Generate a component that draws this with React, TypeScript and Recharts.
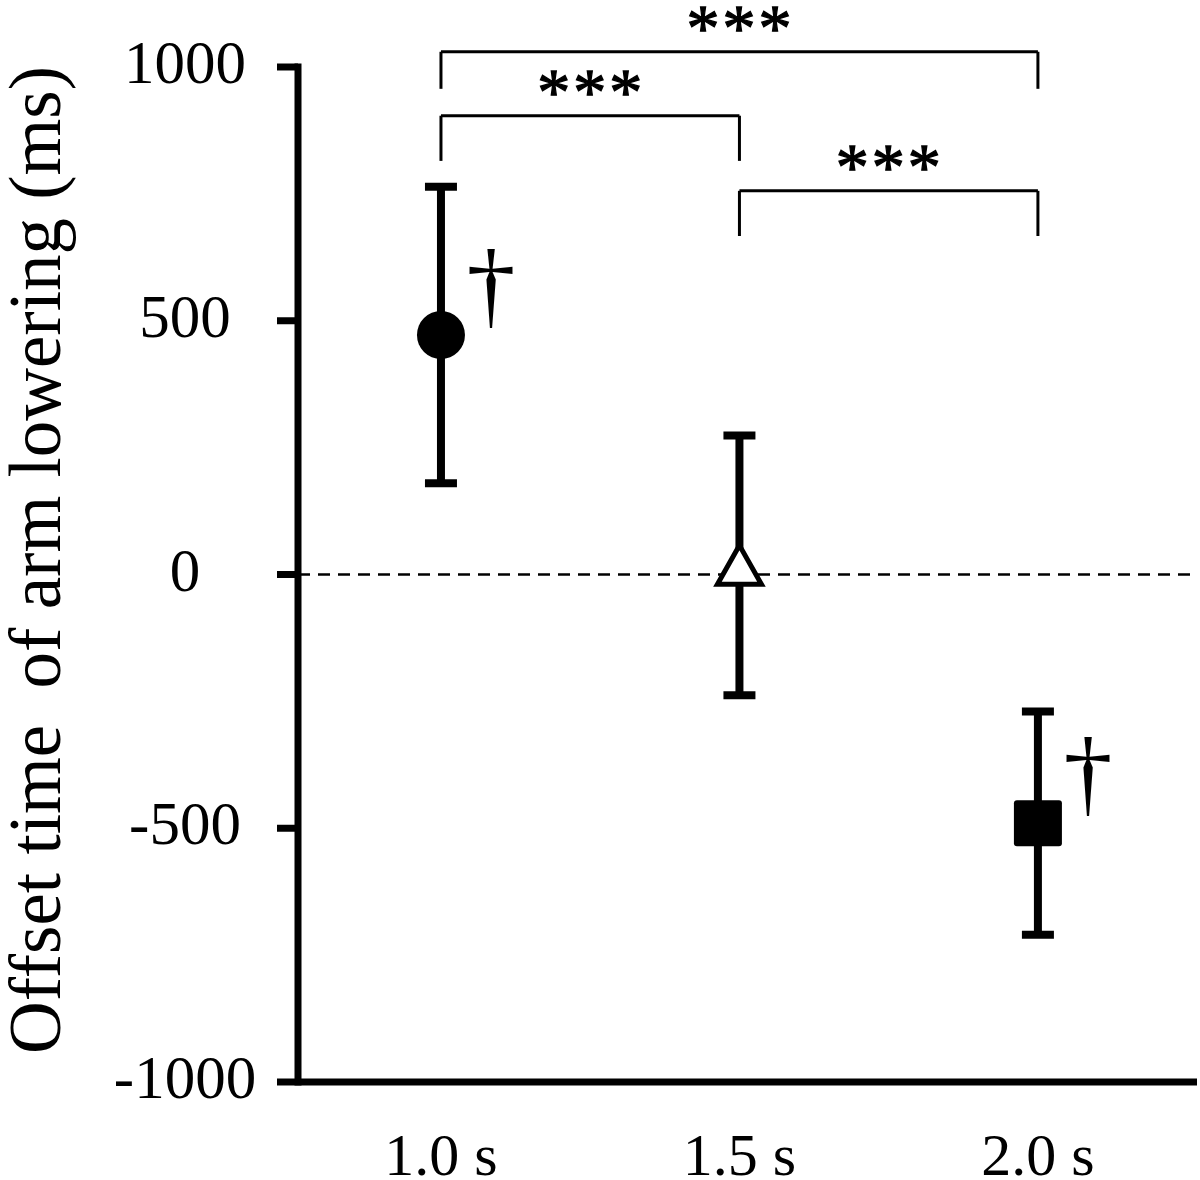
import React from 'react';
import { ComposedChart, Scatter, XAxis, YAxis, ErrorBar, ReferenceLine } from 'recharts';

const categories = ['1.0 s', '1.5 s', '2.0 s'];
const means = [472, 18, -490];
const sds = [292, 256, 220];
const markerTypes = ['circle', 'triangle', 'square'];
const daggerFlags = [true, false, true];
const yTicks = [-1000, -500, 0, 500, 1000];
const yLabel = 'Offset time  of arm lowering (ms)';
const compFrom = [0, 0, 1];
const compTo = [1, 2, 2];
const compLabels = ['***', '***', '***'];
const bracketTops = [904, 1030, 756];
const bracketLegEnds = [815, 957, 667];

const FONT = '"Liberation Serif", "Times New Roman", serif';

const data = categories.map((c, i) => ({
  x: i + 1,
  name: c,
  y: means[i],
  err: sds[i],
  marker: markerTypes[i],
  dagger: daggerFlags[i],
}));

const MarkerShape = (props: any) => {
  const { cx, cy, payload } = props;
  let m: React.ReactNode = null;
  if (payload.marker === 'circle') {
    m = <circle cx={cx} cy={cy} r={24} fill="#000" />;
  } else if (payload.marker === 'triangle') {
    m = (
      <polygon
        points={`${cx},${cy - 20} ${cx + 22},${cy + 19} ${cx - 22},${cy + 19}`}
        fill="#fff"
        stroke="#000"
        strokeWidth={5}
        strokeLinejoin="miter"
      />
    );
  } else {
    m = <rect x={cx - 24} y={cy - 23} width={48} height={46} rx={3} fill="#000" />;
  }
  return (
    <g>
      {m}
      {payload.dagger && (
        <text x={cx + 50} y={cy - 18} fontSize={98} textAnchor="middle" fontFamily={FONT} fill="#000">
          †
        </text>
      )}
    </g>
  );
};

const XTick = (props: any) => {
  const { x, y, payload } = props;
  return (
    <text x={x} y={y + 93} textAnchor="middle" fontSize={60} fontFamily={FONT} fill="#000">
      {categories[payload.value - 1]}
    </text>
  );
};

const YTick = (props: any) => {
  const { x, y, payload } = props;
  return (
    <text x={x} y={y + 16} textAnchor="middle" fontSize={61} fontFamily={FONT} fill="#000">
      {payload.value}
    </text>
  );
};

const YLabel = (props: any) => {
  const cx = 60;
  const cy = 560;
  return (
    <text
      x={cx}
      y={cy}
      transform={`rotate(-90, ${cx}, ${cy})`}
      textAnchor="middle"
      fontSize={73}
      fontFamily={FONT}
      fill="#000"
      style={{ whiteSpace: 'pre' }}
    >
      {yLabel}
    </text>
  );
};

const makeStarLabel = (txt: string) => (props: any) => {
  const vb = props.viewBox || {};
  const x = (vb.x ?? 0) + (vb.width ?? 0) / 2 + 1;
  const y = (vb.y ?? 0) - 2;
  return (
    <text
      x={x}
      y={y}
      textAnchor="middle"
      fontSize={66}
      fontFamily={FONT}
      fill="#000"
      stroke="#000"
      strokeWidth={1.3}
      letterSpacing={3}
    >
      {txt}
    </text>
  );
};

export default function App() {
  const brackets: React.ReactNode[] = [];
  compFrom.forEach((f, i) => {
    const a = f + 1;
    const b = compTo[i] + 1;
    const top = bracketTops[i];
    const leg = bracketLegEnds[i];
    brackets.push(
      <ReferenceLine
        key={`h${i}`}
        segment={[{ x: a, y: top }, { x: b, y: top }]}
        stroke="#000"
        strokeWidth={3}
        ifOverflow="visible"
        label={makeStarLabel(compLabels[i])}
      />,
      <ReferenceLine
        key={`l${i}`}
        segment={[{ x: a, y: top }, { x: a, y: leg }]}
        stroke="#000"
        strokeWidth={3}
        ifOverflow="visible"
      />,
      <ReferenceLine
        key={`r${i}`}
        segment={[{ x: b, y: top }, { x: b, y: leg }]}
        stroke="#000"
        strokeWidth={3}
        ifOverflow="visible"
      />
    );
  });

  return (
    <div style={{ position: 'absolute', left: 0, top: 0, background: '#fff' }}>
      <ComposedChart width={1200} height={1180} data={data} margin={{ top: 67, right: 3, bottom: 0, left: 0 }}>
        <XAxis
          type="number"
          dataKey="x"
          domain={[0.521, 3.533]}
          allowDataOverflow
          ticks={[1, 2, 3]}
          tickLine={false}
          tickSize={0}
          tickMargin={0}
          axisLine={{ stroke: '#000', strokeWidth: 7 }}
          height={98}
          tick={<XTick />}
        />
        <YAxis
          type="number"
          domain={[-1000, 1000]}
          allowDataOverflow
          ticks={yTicks}
          width={298}
          tickSize={21}
          tickMargin={92}
          tickLine={{ stroke: '#000', strokeWidth: 7 }}
          axisLine={{ stroke: '#000', strokeWidth: 7, strokeLinecap: 'square' }}
          tick={<YTick />}
          label={YLabel}
        />
        <ReferenceLine y={0} stroke="#000" strokeWidth={2.5} strokeDasharray="12 8" />
        {brackets}
        <Scatter dataKey="y" isAnimationActive={false} shape={MarkerShape}>
          <ErrorBar dataKey="err" direction="y" width={16} strokeWidth={8} stroke="#000" />
        </Scatter>
      </ComposedChart>
    </div>
  );
}
